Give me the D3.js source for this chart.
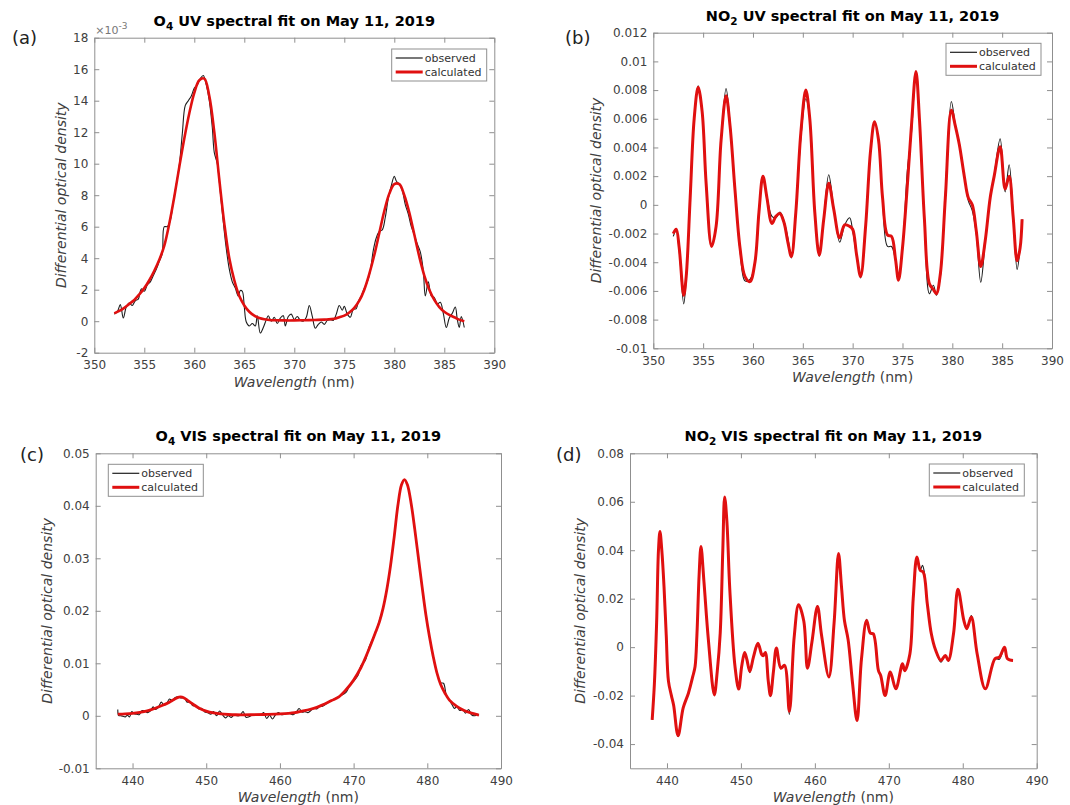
<!DOCTYPE html>
<html>
<head>
<meta charset="utf-8">
<script src="https://cdn.jsdelivr.net/npm/d3@7"></script>
<style>
  body { margin: 0; background: #fff; }
  text { font-family: "DejaVu Sans", sans-serif; }
</style>
</head>
<body>
<script>
// all values in units of 1e-3 (differential optical density)

// (a) O4 UV
const o4uvCalc = [[352,0.5],[352.5,0.65],[353,0.85],[353.5,1.1],[354,1.35],[354.5,1.7],[355,2.1],[355.5,2.6],[356,3.2],[356.5,3.9],[357,4.8],[357.5,6.2],[358,7.9],[358.5,9.8],[359,11.6],[359.5,13.2],[360,14.5],[360.5,15.3],[361,15.4],[361.5,14.3],[362,12.0],[362.5,9.0],[363,6.2],[363.5,4.0],[364,2.6],[364.5,1.6],[365,1.0],[365.5,0.6],[366,0.35],[366.5,0.2],[367,0.12],[367.5,0.08],[368,0.06],[369,0.05],[370,0.05],[371,0.06],[372,0.08],[373,0.1],[374,0.15],[374.5,0.25],[375,0.35],[375.5,0.55],[376,0.85],[376.5,1.3],[377,2.0],[377.5,3.0],[378,4.2],[378.5,5.6],[379,7.0],[379.5,8.1],[380,8.7],[380.5,8.7],[381,8.0],[381.5,6.9],[382,5.5],[382.5,4.1],[383,2.9],[383.5,2.0],[384,1.35],[384.5,0.9],[385,0.6],[385.5,0.4],[386,0.25],[386.5,0.1],[387,0.0]];
const o4uvObs = [[352,0.45],[352.3,0.6],[352.6,1.05],[352.9,0.2],[353.2,0.9],[353.5,1.15],[353.8,1.0],[354.1,1.3],[354.4,1.4],[354.7,2.05],[355,1.9],[355.3,2.3],[355.6,2.5],[355.9,2.9],[356.2,3.3],[356.5,3.8],[356.8,4.3],[357,6.0],[357.3,6.0],[357.6,6.4],[357.9,7.6],[358.2,8.7],[358.5,9.9],[358.8,11.9],[359.1,13.7],[359.4,14.0],[359.7,14.3],[360,14.8],[360.3,15.0],[360.6,15.4],[360.9,15.6],[361.2,15.0],[361.5,14.0],[361.8,12.3],[362,10.7],[362.3,10.0],[362.6,8.2],[362.9,6.3],[363.2,4.6],[363.5,3.3],[363.8,2.5],[364.1,2.1],[364.4,1.6],[364.6,1.95],[364.8,1.9],[365,0.9],[365.2,-0.05],[365.5,-0.3],[365.8,-0.15],[366.1,-0.3],[366.3,0.35],[366.6,-0.75],[366.9,-0.4],[367.2,0.1],[367.4,0.35],[367.7,0.0],[368,0.25],[368.3,-0.15],[368.6,0.2],[368.9,0.35],[369.1,-0.3],[369.4,0.3],[369.7,0.45],[370,0.1],[370.3,0.3],[370.6,0.05],[370.9,0.0],[371.2,0.25],[371.5,1.0],[371.8,0.3],[372.1,-0.45],[372.4,-0.2],[372.7,-0.05],[373,-0.2],[373.3,0.05],[373.6,0.1],[373.9,0.05],[374.2,0.45],[374.5,1.0],[374.8,0.7],[375,0.95],[375.3,0.45],[375.6,0.25],[375.9,0.75],[376.2,0.8],[376.4,1.25],[376.7,1.6],[377,2.1],[377.3,2.5],[377.6,3.2],[377.9,4.5],[378.2,5.3],[378.5,5.7],[378.8,5.8],[379.1,6.6],[379.4,7.8],[379.7,8.6],[380,9.2],[380.2,8.9],[380.5,8.7],[380.8,8.3],[381.1,7.4],[381.4,6.8],[381.7,6.0],[382,5.5],[382.3,4.9],[382.6,4.4],[382.9,3.2],[383.1,1.6],[383.4,2.5],[383.7,1.6],[384,1.5],[384.3,1.1],[384.6,1.2],[384.9,0.5],[385.2,-0.4],[385.5,0.2],[385.8,0.5],[386.1,0.9],[386.3,0.1],[386.5,-0.4],[386.7,0.3],[387,-0.4]];

// (b) NO2 UV
const no2uvCalc = [[352,-2.0],[352.3,-1.7],[352.6,-3.0],[353.05,-6.3],[353.3,-5.0],[353.7,0.5],[354.1,6.0],[354.5,8.2],[354.9,6.5],[355.3,1.5],[355.85,-2.9],[356.3,-1.5],[356.8,4.5],[357.3,7.6],[357.7,5.5],[358.2,1.0],[358.7,-3.0],[359.2,-5.0],[359.7,-5.35],[360.2,-4.0],[360.6,-0.5],[361,2.0],[361.4,0.5],[361.9,-1.3],[362.3,-0.8],[362.7,-0.6],[363.1,-1.2],[363.5,-2.6],[363.85,-3.6],[364.3,-0.5],[364.8,5.0],[365.3,8.0],[365.7,6.0],[366.2,-0.5],[366.65,-3.5],[367.1,-1.0],[367.6,1.5],[368.1,-0.3],[368.7,-2.3],[369.2,-1.4],[369.7,-1.5],[370,-1.7],[370.4,-3.5],[370.8,-5.0],[371.3,-1.5],[371.8,3.8],[372.2,5.8],[372.6,4.5],[373,0.5],[373.5,-2.1],[373.9,-2.2],[374.3,-3.8],[374.6,-5.25],[375,-3.0],[375.5,1.5],[375.9,5.5],[376.35,9.3],[376.7,6.0],[377.2,-1.0],[377.7,-5.5],[378.1,-5.9],[378.4,-6.2],[378.8,-4.8],[379.3,0.5],[379.9,6.6],[380.3,5.5],[380.7,4.2],[381.2,2.0],[381.6,0.5],[382,0.0],[382.4,-1.8],[382.85,-4.3],[383.3,-2.5],[383.8,0.5],[384.2,2.0],[384.8,4.05],[385.3,1.1],[385.7,2.0],[386.1,-0.8],[386.5,-3.9],[386.8,-3.0],[387,-1.0]];
const no2uvObs = [[352,-2.2],[352.3,-1.8],[352.6,-3.2],[353.05,-6.9],[353.3,-5.2],[353.7,0.4],[354.1,6.0],[354.5,8.3],[354.9,6.5],[355.3,1.5],[355.85,-2.9],[356.3,-1.5],[356.8,4.5],[357.3,8.1],[357.7,5.7],[358.2,1.0],[358.7,-3.2],[359.2,-5.3],[359.7,-5.2],[360.2,-4.1],[360.6,-0.6],[361,2.0],[361.4,0.6],[361.9,-0.8],[362.3,-0.9],[362.7,-0.5],[363.1,-1.1],[363.5,-2.3],[363.85,-3.7],[364.3,-0.6],[364.8,4.6],[365.3,7.4],[365.7,6.0],[366.2,-0.5],[366.65,-3.6],[367.1,-0.9],[367.6,2.1],[368.1,-0.2],[368.7,-2.6],[369.2,-1.4],[369.7,-0.9],[370,-1.8],[370.4,-3.6],[370.8,-5.1],[371.3,-1.5],[371.8,3.8],[372.2,5.8],[372.6,4.5],[373,0.4],[373.5,-2.9],[373.9,-2.9],[374.3,-3.9],[374.6,-5.0],[375,-3.0],[375.5,2.5],[375.9,5.0],[376.35,9.3],[376.7,6.0],[377.2,-1.0],[377.7,-6.2],[378.1,-5.6],[378.4,-6.3],[378.8,-5.0],[379.3,0.8],[379.9,7.2],[380.3,5.6],[380.7,4.3],[381.2,2.0],[381.6,0.3],[382,-0.4],[382.4,-2.0],[382.85,-5.4],[383.3,-2.6],[383.8,0.5],[384.2,2.1],[384.8,4.6],[385.3,0.9],[385.7,2.8],[386.1,-0.6],[386.5,-4.5],[386.8,-3.0],[387,-1.0]];

// (c) O4 VIS
const o4visCalc = [[438,0.3],[439,0.35],[440,0.45],[441,0.65],[442,0.95],[443,1.4],[444,1.95],[445,2.6],[445.5,3.0],[446,3.4],[446.5,3.6],[447,3.4],[447.5,2.9],[448,2.4],[449,1.5],[450,0.9],[451,0.55],[452,0.35],[453,0.25],[454,0.2],[456,0.2],[458,0.25],[460,0.35],[462,0.6],[463,0.9],[464,1.2],[465,1.6],[466,2.2],[467,2.9],[468,3.6],[469,5.0],[470,6.8],[471,9.2],[472,12.4],[473,16.0],[473.5,17.9],[474,20.5],[474.5,24.0],[475,28.5],[475.5,34.0],[476,40.0],[476.5,44.0],[476.9,45.0],[477.3,44.0],[477.8,40.5],[478.3,35.5],[478.8,30.0],[479.3,24.5],[479.8,19.3],[480.3,15.0],[480.8,11.3],[481.3,8.2],[481.8,6.0],[482.4,4.3],[483,3.0],[484,1.8],[485,1.0],[486,0.5],[487,0.15]];
const o4visObs = [[438,1.2],[438.1,0.1],[438.4,0.0],[438.7,-0.1],[439,-0.2],[439.3,0.1],[439.6,-0.2],[439.9,0.8],[440.2,0.4],[440.6,0.3],[440.9,0.2],[441.3,1.0],[441.7,0.9],[442,0.6],[442.4,0.9],[442.8,1.7],[443.1,1.2],[443.5,1.6],[443.9,2.6],[444.3,2.0],[444.7,2.5],[445,3.2],[445.4,2.9],[445.8,3.5],[446.2,3.6],[446.6,3.4],[447,3.5],[447.4,2.6],[447.8,2.6],[448.2,1.9],[448.6,2.0],[449,1.3],[449.4,1.4],[449.8,0.7],[450.2,0.6],[450.6,0.3],[451,0.8],[451.4,0.0],[451.8,0.9],[452.2,0.2],[452.6,-0.4],[453,0.0],[453.4,-0.3],[453.8,0.2],[454.2,0.0],[454.6,0.1],[455,0.8],[455.4,-0.3],[455.8,-0.2],[456.2,0.1],[456.6,0.2],[457,0.1],[457.4,0.1],[457.8,0.6],[458.2,-0.5],[458.6,0.1],[459,-0.6],[459.4,0.2],[459.8,0.6],[460.2,0.2],[460.6,0.3],[461,0.5],[461.4,0.4],[461.8,0.2],[462.2,0.6],[462.6,1.4],[463,0.7],[463.4,0.8],[463.8,0.6],[464.2,1.0],[464.6,1.5],[465,1.3],[465.4,1.8],[465.8,1.8],[466.5,2.5],[467,2.9],[467.5,3.3],[468.2,3.8],[469,4.5],[469.5,5.9],[470,6.6],[470.6,7.7],[471,9.6],[471.6,10.6],[472,12.7],[472.6,14.7],[473,16.0],[473.6,18.6],[474,20.5],[474.5,24.0],[475,28.5],[475.5,34.0],[476,40.0],[476.5,44.0],[476.9,45.0],[477.3,44.0],[477.8,40.5],[478.3,35.5],[478.8,30.0],[479.3,24.5],[479.8,19.3],[480.3,15.0],[480.8,11.3],[481.3,8.2],[481.8,6.3],[482.2,6.2],[482.6,3.8],[483,3.0],[483.4,2.0],[483.7,1.4],[484,1.8],[484.4,1.0],[484.8,1.2],[485.2,0.5],[485.6,1.2],[486,0.2],[486.4,0.0],[486.8,0.3],[487,0.1]];

// (d) NO2 VIS
const no2visCalc = [[438,-30],[438.3,-15],[438.6,10],[438.85,40],[439.05,47.7],[439.3,40],[439.6,25],[439.9,5],[440.2,-14],[440.6,-20],[440.9,-24],[441.5,-36.5],[442.2,-25],[442.9,-19],[443.5,-12],[443.8,-8],[444.05,5],[444.35,30],[444.6,41.5],[445,27],[445.6,3],[446.4,-19.7],[446.8,-10],[447.2,5.8],[447.55,40],[447.8,62],[448.1,52],[448.5,23.6],[449.2,-8],[449.7,-17.3],[450.1,-8],[450.5,-2.2],[450.8,-5],[451.2,-10],[451.7,-4],[452.3,1.6],[452.8,-3],[453,-3.6],[453.3,-2.2],[453.7,-14],[454,-20],[454.4,-10],[454.8,-0.4],[455.4,-8.7],[455.9,-7.5],[456.55,-26.5],[457.2,4],[457.8,17.5],[458.5,10.8],[459,-8.7],[459.6,2],[460.35,16.8],[460.9,5],[461.9,-12.3],[462.6,10],[463.2,38.6],[463.6,25],[464,11],[464.5,3],[465.1,-15],[465.7,-30.3],[466.3,-5],[467,11],[467.5,5.8],[467.9,5.5],[468.6,-9.7],[468.9,-11.7],[469.5,-20],[470.2,-10.3],[470.95,-17.2],[471.85,-6.9],[472.15,-9.7],[472.85,-2.8],[473.3,20],[473.8,37.2],[474.25,31.7],[474.65,31],[475.2,18],[475.75,5.5],[476.3,-1],[477.05,-5.5],[477.65,-3.4],[478.05,-5.5],[478.75,5.5],[479.35,23.9],[480.15,11],[480.55,7.6],[481.15,12.4],[481.95,-2.8],[483.05,-17.2],[484.35,-4.8],[484.95,-4.1],[485.65,0],[486.05,-4.8],[486.8,-5.5]];
const no2visObs = [[438,-30],[438.3,-15],[438.6,10],[438.85,40],[439.05,47.7],[439.3,40],[439.6,25],[439.9,5],[440.2,-14],[440.6,-20],[440.9,-24],[441.5,-37],[442.2,-25],[442.9,-19],[443.5,-12],[443.8,-8],[444.05,5],[444.35,30],[444.6,41.5],[445,27],[445.6,3],[446.4,-20],[446.8,-10],[447.2,5.8],[447.55,40],[447.8,62],[448.1,52],[448.5,23.6],[449.2,-8],[449.7,-17.3],[450.1,-8],[450.5,-2.8],[450.8,-5],[451.2,-10.5],[451.7,-4],[452.3,1.6],[452.8,-3],[453,-3.8],[453.3,-2.5],[453.7,-14],[454,-20.5],[454.4,-10],[454.8,-0.6],[455.4,-8.7],[455.9,-7.5],[456.55,-27.8],[457.2,4],[457.8,17.5],[458.5,10.8],[459,-8.7],[459.6,2],[460.35,17.2],[460.9,5],[461.9,-12.3],[462.6,10],[463.2,38.6],[463.6,25],[464,11],[464.5,3],[465.1,-15],[465.7,-30.3],[466.3,-5],[467,11.5],[467.5,5.8],[467.9,5.5],[468.6,-9.7],[468.9,-11.7],[469.5,-20],[470.2,-10.3],[470.95,-17.5],[471.85,-6.9],[472.15,-9.7],[472.85,-2.8],[473.3,20],[473.8,37.2],[474.25,31.7],[474.55,33.8],[474.8,31],[475.2,18],[475.75,5.5],[476.3,-1],[477.05,-6.2],[477.65,-3.4],[478.05,-5.8],[478.75,5.5],[479.35,23.9],[480.15,11],[480.55,7.6],[481.15,13],[481.95,-2.8],[483.05,-17.2],[484.35,-4.8],[484.95,-5.0],[485.65,0],[486.05,-4.8],[486.8,-5.5]];

// ticks
const uvXTicks = [350, 355, 360, 365, 370, 375, 380, 385, 390];
const visXTicks = [440, 450, 460, 470, 480, 490];
const o4uvYTicks = [-2, 0, 2, 4, 6, 8, 10, 12, 14, 16, 18];
const no2uvYTicks = [-10, -8, -6, -4, -2, 0, 2, 4, 6, 8, 10, 12];
const o4visYTicks = [-10, 0, 10, 20, 30, 40, 50];
const no2visYTicks = [-40, -20, 0, 20, 40, 60, 80];

const AXIS_GRAY = "#8f8f8f";
const TEXT_GRAY = "#404040";
const RED = "#e01010";

const svg = d3.select("body").append("svg")
  .attr("width", 1070)
  .attr("height", 805);

const panels = [
  { tag: "(a)", tagX: 12, tagY: 44, mol: "O", sub: "4", band: "UV",
    left: 94.3, right: 494.3, top: 37.7, bottom: 352.7,
    xDomain: [350, 390], yDomain: [-2, 18], xTicks: uvXTicks, yTicks: o4uvYTicks,
    fmt: d => String(d), yLabelDx: 28, exponent: true,
    obs: o4uvObs, calc: o4uvCalc, calcWidth: 2.6,
    legendX: 391.7, legendY: 49 },
  { tag: "(b)", tagX: 565, tagY: 44, mol: "NO", sub: "2", band: "UV",
    left: 653.3, right: 1052, top: 32.7, bottom: 348.3,
    xDomain: [350, 390], yDomain: [-10, 12], xTicks: uvXTicks, yTicks: no2uvYTicks,
    fmt: d => String(+(d / 1000).toFixed(4)), yLabelDx: 52,
    obs: no2uvObs, calc: no2uvCalc, calcWidth: 3,
    legendX: 946, legendY: 43.3 },
  { tag: "(c)", tagX: 20, tagY: 461, mol: "O", sub: "4", band: "VIS",
    left: 95.7, right: 501, top: 453.3, bottom: 768.3,
    xDomain: [435, 490], yDomain: [-10, 50], xTicks: visXTicks, yTicks: o4visYTicks,
    fmt: d => String(+(d / 1000).toFixed(4)), yLabelDx: 44,
    obs: o4visObs, calc: o4visCalc, calcWidth: 2.8,
    legendX: 108.3, legendY: 464.3 },
  { tag: "(d)", tagX: 556, tagY: 461, mol: "NO", sub: "2", band: "VIS",
    left: 630, right: 1036.7, top: 453.3, bottom: 768.3,
    xDomain: [435, 490], yDomain: [-50, 80], xTicks: visXTicks, yTicks: no2visYTicks,
    fmt: d => String(+(d / 1000).toFixed(4)), yLabelDx: 45,
    obs: no2visObs, calc: no2visCalc, calcWidth: 3,
    legendX: 929.3, legendY: 464 }
];

function styleAxis(sel) {
  sel.select(".domain").attr("stroke", AXIS_GRAY);
  sel.selectAll(".tick line").attr("stroke", AXIS_GRAY);
  sel.selectAll(".tick text").attr("fill", TEXT_GRAY).attr("font-size", 12)
    .attr("font-family", "DejaVu Sans, sans-serif");
}

function drawPanel(p) {
  const x = d3.scaleLinear().domain(p.xDomain).range([p.left, p.right]);
  const y = d3.scaleLinear().domain(p.yDomain).range([p.bottom, p.top]);
  const g = svg.append("g");

  // box with inward ticks on all four sides
  g.append("g").attr("transform", `translate(0,${p.bottom})`)
    .call(d3.axisBottom(x).tickValues(p.xTicks).tickFormat(d => String(d))
      .tickSizeInner(-5).tickSizeOuter(0).tickPadding(8))
    .call(styleAxis);
  g.append("g").attr("transform", `translate(0,${p.top})`)
    .call(d3.axisTop(x).tickValues(p.xTicks).tickFormat("")
      .tickSizeInner(-5).tickSizeOuter(0))
    .call(styleAxis);
  g.append("g").attr("transform", `translate(${p.left},0)`)
    .call(d3.axisLeft(y).tickValues(p.yTicks).tickFormat(p.fmt)
      .tickSizeInner(-5).tickSizeOuter(0).tickPadding(6))
    .call(styleAxis);
  g.append("g").attr("transform", `translate(${p.right},0)`)
    .call(d3.axisRight(y).tickValues(p.yTicks).tickFormat("")
      .tickSizeInner(-5).tickSizeOuter(0))
    .call(styleAxis);

  const line = d3.line().x(d => x(d[0])).y(d => y(d[1]))
    .curve(d3.curveCatmullRom.alpha(0.5));

  g.append("path").datum(p.obs).attr("d", line)
    .attr("fill", "none").attr("stroke", "#1e1e1e").attr("stroke-width", 1.1);
  g.append("path").datum(p.calc).attr("d", line)
    .attr("fill", "none").attr("stroke", RED).attr("stroke-width", p.calcWidth)
    .attr("stroke-linejoin", "round");

  // title
  const title = g.append("text")
    .attr("x", (p.left + p.right) / 2).attr("y", p.top - 12)
    .attr("text-anchor", "middle").attr("font-size", 14.5).attr("font-weight", "bold")
    .attr("fill", "#000");
  title.append("tspan").text(p.mol);
  title.append("tspan").attr("dy", 4).attr("font-size", 10.5).text(p.sub);
  title.append("tspan").attr("dy", -4).text(` ${p.band} spectral fit on May 11, 2019`);

  // axis labels
  const xl = g.append("text")
    .attr("x", (p.left + p.right) / 2).attr("y", p.bottom + 34)
    .attr("text-anchor", "middle").attr("font-size", 14).attr("fill", TEXT_GRAY);
  xl.append("tspan").attr("font-style", "italic").text("Wavelength");
  xl.append("tspan").text(" (nm)");

  g.append("text")
    .attr("transform", `translate(${p.left - p.yLabelDx},${(p.top + p.bottom) / 2}) rotate(-90)`)
    .attr("text-anchor", "middle").attr("font-size", 14).attr("font-style", "italic")
    .attr("fill", TEXT_GRAY).text("Differential optical density");

  if (p.exponent) {
    const ex = g.append("text").attr("x", p.left + 1).attr("y", p.top - 4)
      .attr("font-size", 11).attr("fill", "#777");
    ex.append("tspan").text("\u00d710");
    ex.append("tspan").attr("dy", -5).attr("font-size", 9).text("-3");
  }

  // panel tag
  g.append("text").attr("x", p.tagX).attr("y", p.tagY)
    .attr("font-family", "Open Sans, sans-serif").attr("font-size", 18)
    .attr("fill", "#222").text(p.tag);

  // legend
  const lg = g.append("g").attr("transform", `translate(${p.legendX},${p.legendY})`);
  lg.append("rect").attr("width", 95).attr("height", 32)
    .attr("fill", "#fff").attr("stroke", AXIS_GRAY).attr("stroke-width", 1);
  lg.append("line").attr("x1", 4).attr("x2", 31).attr("y1", 9).attr("y2", 9)
    .attr("stroke", "#1e1e1e").attr("stroke-width", 1.2);
  lg.append("line").attr("x1", 4).attr("x2", 31).attr("y1", 23).attr("y2", 23)
    .attr("stroke", RED).attr("stroke-width", 3);
  lg.append("text").attr("x", 33).attr("y", 13).attr("font-size", 11)
    .attr("fill", "#333").text("observed");
  lg.append("text").attr("x", 33).attr("y", 27).attr("font-size", 11)
    .attr("fill", "#333").text("calculated");
}

panels.forEach(drawPanel);
</script>
</body>
</html>
